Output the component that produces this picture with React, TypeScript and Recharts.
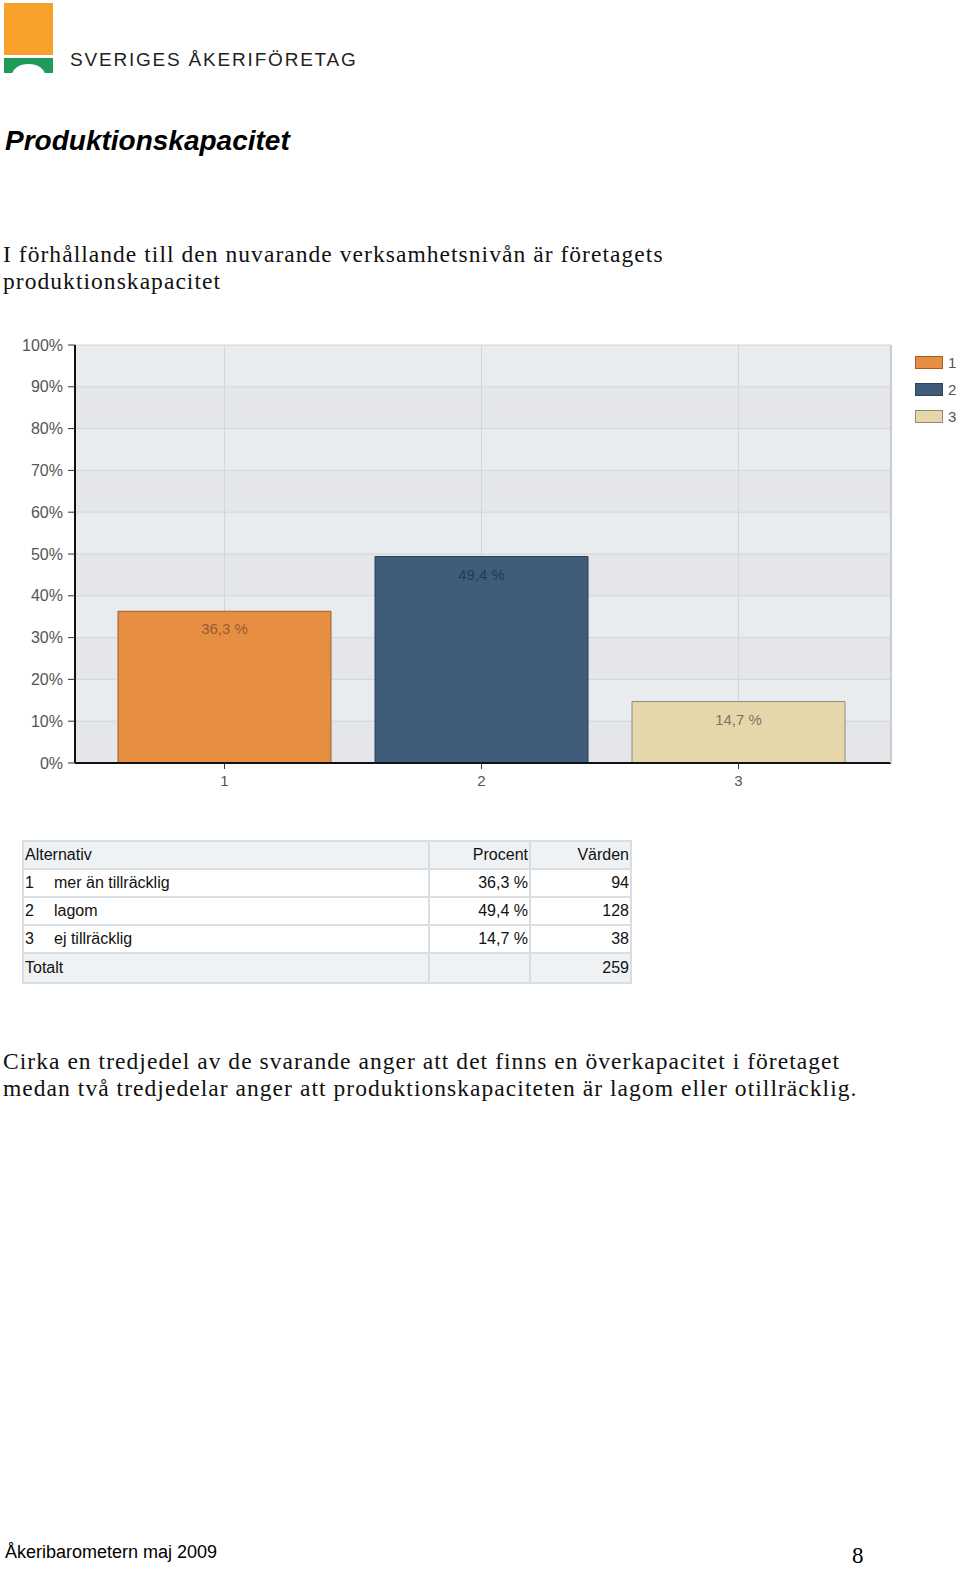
import { BarChart, Bar, XAxis, YAxis, CartesianGrid, Cell, LabelList } from "recharts";

const categories = ["1", "2", "3"];
const alternatives = ["mer än tillräcklig", "lagom", "ej tillräcklig"];
const percent = [36.3, 49.4, 14.7];
const counts = [94, 128, 38];
const total = 259;
const yTicks = [0, 10, 20, 30, 40, 50, 60, 70, 80, 90, 100];

const barColors = ["#e68f43", "#3f5c7a", "#e6d7ab"];
const barStrokes = ["#9c5f2c", "#2c435a", "#8f8a7a"];
const labelColors = ["#9a5a2c", "#263a50", "#7d7560"];

const data = categories.map((c, i) => ({ name: c, value: percent[i] }));

const sans = "'Liberation Sans', Arial, sans-serif";
const serif = "'Liberation Serif', 'Times New Roman', serif";

const fmt = (v: number) => `${v.toFixed(1).replace(".", ",")} %`;

function BarLabel(props: any) {
  const { x, y, width, index, value } = props;
  return (
    <text
      x={x + width / 2}
      y={y + 23}
      textAnchor="middle"
      fontFamily={sans}
      fontSize={15}
      fill={labelColors[index]}
    >
      {fmt(value)}
    </text>
  );
}

const cellBase: React.CSSProperties = {
  borderRight: "2px solid #d9dee3",
  borderBottom: "2px solid #d9dee3",
  padding: "0 1px",
  height: 26,
};

const bodyText: React.CSSProperties = {
  position: "absolute",
  left: 3,
  width: 950,
  fontFamily: serif,
  fontSize: 23.5,
  lineHeight: "27px",
  letterSpacing: 1.05,
  color: "#111",
};

export default function App() {
  return (
    <div style={{ position: "absolute", left: 0, top: 0, width: 960, height: 1573, background: "#fff", overflow: "hidden" }}>
      {/* logo */}
      <div style={{ position: "absolute", left: 4, top: 3, width: 49, height: 52, background: "#f7a02a" }} />
      <div style={{ position: "absolute", left: 4, top: 58, width: 49, height: 15, background: "#1f9a5a", overflow: "hidden" }}>
        <div style={{ position: "absolute", left: 8, top: 6, width: 33, height: 22, borderRadius: "50%", background: "#fff" }} />
      </div>
      <div style={{ position: "absolute", left: 70, top: 49, fontFamily: sans, fontSize: 19, letterSpacing: 1.8, color: "#222" }}>
        SVERIGES ÅKERIFÖRETAG
      </div>

      <div style={{ position: "absolute", left: 5, top: 125, fontFamily: sans, fontSize: 28, fontWeight: "bold", fontStyle: "italic", color: "#000" }}>
        Produktionskapacitet
      </div>

      <div style={{ ...bodyText, top: 241 }}>
        I förhållande till den nuvarande verksamhetsnivån är företagets
        <br />
        produktionskapacitet
      </div>

      {/* chart */}
      <div style={{ position: "absolute", left: 0, top: 330, width: 960, height: 470 }}>
        <BarChart width={960} height={470} data={data} margin={{ top: 15, right: 69, left: 15, bottom: 7 }}>
          <CartesianGrid
            stroke="#d2d5d9"
            horizontalFill={["#e9ecef", "#e4e6e9"]}
            fillOpacity={1}
          />
          <XAxis
            dataKey="name"
            height={30}
            padding={{ left: 21, right: 24 }}
            axisLine={{ stroke: "#111", strokeWidth: 2 }}
            tickLine={{ stroke: "#333" }}
            tickSize={6}
            tickMargin={6}
            tick={{ fontFamily: sans, fontSize: 15, fill: "#555" }}
          />
          <YAxis
            width={60}
            domain={[0, 100]}
            ticks={yTicks}
            interval={0}
            tickFormatter={(v) => `${v}%`}
            axisLine={{ stroke: "#111", strokeWidth: 2 }}
            tickLine={{ stroke: "#333" }}
            tickSize={7}
            tickMargin={5}
            tick={{ fontFamily: sans, fontSize: 16, fill: "#555" }}
          />
          <Bar dataKey="value" barSize={213} isAnimationActive={false}>
            {data.map((d, i) => (
              <Cell key={d.name} fill={barColors[i]} stroke={barStrokes[i]} strokeWidth={1} />
            ))}
            <LabelList dataKey="value" content={<BarLabel />} />
          </Bar>
        </BarChart>
      </div>
      {/* plot right border */}
      <div style={{ position: "absolute", left: 890, top: 345, width: 2, height: 418, background: "#c9ccd0" }} />

      {/* legend */}
      {categories.map((c, i) => (
        <div key={c} style={{ position: "absolute", left: 915, top: 355 + i * 27, height: 14, display: "flex", alignItems: "center" }}>
          <div style={{ width: 26, height: 11, background: barColors[i], border: `1px solid ${barStrokes[i]}` }} />
          <span style={{ marginLeft: 5, fontFamily: sans, fontSize: 15, color: "#555" }}>{c}</span>
        </div>
      ))}

      {/* table */}
      <table
        style={{
          position: "absolute",
          left: 22,
          top: 840,
          width: 610,
          borderCollapse: "collapse",
          borderTop: "2px solid #d9dee3",
          borderLeft: "2px solid #d9dee3",
          fontFamily: sans,
          fontSize: 16,
          color: "#111",
        }}
      >
        <tbody>
          <tr style={{ background: "#eff2f5" }}>
            <td style={{ ...cellBase, width: 402 }}>Alternativ</td>
            <td style={{ ...cellBase, width: 97, textAlign: "right" }}>Procent</td>
            <td style={{ ...cellBase, textAlign: "right" }}>Värden</td>
          </tr>
          {alternatives.map((a, i) => (
            <tr key={a}>
              <td style={cellBase}>
                <span style={{ display: "inline-block", width: 29 }}>{categories[i]}</span>
                {a}
              </td>
              <td style={{ ...cellBase, textAlign: "right" }}>{fmt(percent[i])}</td>
              <td style={{ ...cellBase, textAlign: "right" }}>{counts[i]}</td>
            </tr>
          ))}
          <tr style={{ background: "#eff2f5" }}>
            <td style={{ ...cellBase, height: 28 }}>Totalt</td>
            <td style={cellBase}></td>
            <td style={{ ...cellBase, textAlign: "right" }}>{total}</td>
          </tr>
        </tbody>
      </table>

      <div style={{ ...bodyText, top: 1048 }}>
        Cirka en tredjedel av de svarande anger att det finns en överkapacitet i företaget
        <br />
        medan två tredjedelar anger att produktionskapaciteten är lagom eller otillräcklig.
      </div>

      <div style={{ position: "absolute", left: 5, top: 1542, fontFamily: sans, fontSize: 18, color: "#000" }}>
        Åkeribarometern maj 2009
      </div>
      <div style={{ position: "absolute", left: 852, top: 1543, fontFamily: serif, fontSize: 23, color: "#000" }}>
        8
      </div>
    </div>
  );
}
